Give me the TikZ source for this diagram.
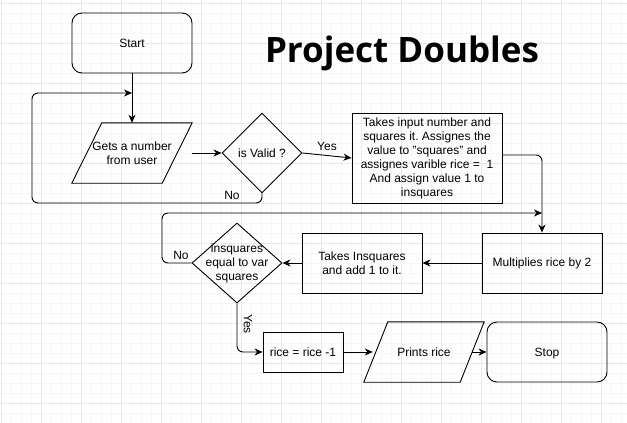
\documentclass[tikz,border=0pt]{standalone}
\usepackage{fontspec}
\setmainfont{Liberation Sans}
\newfontfamily\titlefont{Open Sans}
\usetikzlibrary{shapes.geometric,arrows.meta}
\definecolor{gridmajor}{HTML}{E8E8E8}
\definecolor{gridminor}{HTML}{F6F6F6}
\frenchspacing
\begin{document}
\begin{tikzpicture}[x=1pt,y=-1pt,
  txt/.style={font=\fontsize{12}{14}\selectfont, align=center, inner sep=0pt},
  box/.style={draw, line width=0.9pt, txt, minimum width=120pt, minimum height=60pt},
  rbox/.style={box, rounded corners=10pt},
  pbox/.style={txt, minimum width=120pt, minimum height=60pt},
  dia/.style={draw, line width=0.9pt, diamond, inner sep=0pt},
  conn/.style={line width=0.9pt, -{Stealth[length=8pt,width=7pt,inset=2.5pt]}},
  plain/.style={line width=0.9pt},
  lbl/.style={txt}
]
\useasboundingbox (0,0) rectangle (627,423);
\fill[white] (0,0) rectangle (627,423);
% grid
\foreach \x in {1,11,...,621} \draw[gridminor, line width=0.5pt] (\x,0) -- (\x,423);
\foreach \y in {3,13,...,423} \draw[gridminor, line width=0.5pt] (0,\y) -- (627,\y);
\foreach \x in {1,41,...,601} \draw[gridmajor, line width=0.5pt] (\x,0) -- (\x,423);
\foreach \y in {3,43,...,403} \draw[gridmajor, line width=0.5pt] (0,\y) -- (627,\y);

% title
\node[anchor=base, inner sep=0pt, font=\titlefont\bfseries\fontsize{35}{40}\selectfont] (title) at (402,62) {Project Doubles};

% nodes
\node[rbox] (start) at (132,43) {Start};
\node[pbox] (get) at (132,153) {Gets a number\\from user};
\draw[plain] ([xshift=30pt]get.north west) -- (get.north east) -- ([xshift=-30pt]get.south east) -- (get.south west) -- cycle;
\node[dia, minimum width=80pt, minimum height=80pt, label={[txt]center:is Valid ?}] (valid) at (262,153) {};
\node[box, minimum width=150pt, minimum height=90pt] (sq) at (427,158) {Takes input number and\\squares it. Assignes the\\value to \symbol{34}squares\symbol{34} and\\assignes varible rice =\ \ 1\\And assign value 1 to\\insquares};
\node[box] (mult) at (542,263) {Multiplies rice by 2};
\node[box] (inc) at (362,263) {Takes Insquares\\and add 1 to it.};
\node[dia, minimum width=90pt, minimum height=80pt, label={[txt]center:insquares\\equal to var\\squares}] (check) at (237,263) {};
\node[box, minimum width=80pt, minimum height=40pt] (rice) at (303,352) {rice = rice -1};
\node[pbox] (prints) at (424,352) {Prints rice};
\draw[plain] ([xshift=24pt]prints.north west) -- (prints.north east) -- ([xshift=-24pt]prints.south east) -- (prints.south west) -- cycle;
\node[rbox] (stop) at (547,352) {\raisebox{0pt}[\height][0pt]{Stop}};

\coordinate (j1) at (132,93);
\coordinate (j2) at (542,213);

% connectors
\draw[conn] (start.south) -- (get.north);
\draw[conn] (get.east) -- (valid.west);
\draw[conn] (valid.east) -- node[lbl, above=4pt] {Yes} (sq.west);
\draw[conn, rounded corners=6pt] (valid.south) -- (262,203) -- (32,203) -- (32,93) -- (j1);
\node[lbl] (nolbl1) at (232,195) {No};
\draw[conn, rounded corners=6pt] ([yshift=3pt]sq.east) -| (mult.north);
\draw[conn, rounded corners=6pt] (check.west) -- (162,263) -- (162,213) -- (j2);
\node[lbl] (nolbl2) at (181,255) {No};
\draw[conn] (mult.west) -- (inc.east);
\draw[conn] (inc.west) -- (check.east);
\draw[conn, rounded corners=6pt] (check.south) |- (rice.west);
\node[lbl, rotate=-90] (yeslbl2) at (248,324) {Yes};
\draw[conn] (rice.east) -- ([xshift=9pt]prints.west);
\draw[conn] ([xshift=-12pt]prints.east) -- (stop.west);
\end{tikzpicture}
\end{document}
